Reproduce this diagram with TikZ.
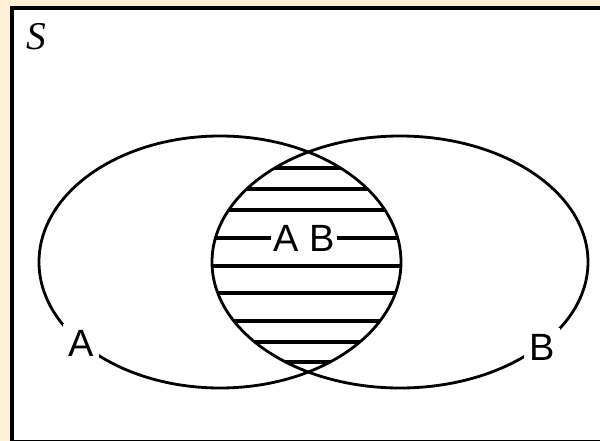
\documentclass[tikz,border=0pt]{standalone}
\usepackage{fontspec}
\setmainfont{Liberation Serif}
\newfontfamily\arialfont{Liberation Sans}
\definecolor{frameback}{RGB}{253,239,213}

\begin{document}
\begin{tikzpicture}[
    x=0.025cm, y=-0.025cm,
    oval/.style={draw=black, line width=2pt},
    hatch/.style={draw=black, line width=2.3pt},
    lbl/.style={font=\arialfont\fontsize{27}{32}\selectfont,
                fill=white, inner sep=#1},
    lbl/.default=3pt,
]

% --- page frame ---
\fill [frameback] (0,0) rectangle (600,441);
\useasboundingbox (0,0) rectangle (600,441);
\node (sample) [draw=black, line width=2.8pt, fill=white, inner sep=0pt,
    minimum width=593*0.025cm, minimum height=434*0.025cm, anchor=north west]
    at (10,6) {};

% --- set centres ---
\coordinate (cA) at (220,262);
\coordinate (cB) at (400,262);

% --- hatched intersection A B ---
\begin{scope}
    \clip (cA) ellipse [x radius=181, y radius=126];
    \clip (cB) ellipse [x radius=188, y radius=126];
    \foreach \yy in {168,189,210,238,266,293,321,342,362}
        \draw [hatch] (200,\yy) -- (420,\yy);
\end{scope}

% --- the two sets ---
\draw [oval] (cA) ellipse [x radius=181, y radius=126];
\draw [oval] (cB) ellipse [x radius=188, y radius=126];

% --- labels ---
\node (space) [font=\itshape\fontsize{28}{32}\selectfont, inner sep=0pt]
    at (36,37) {S};
\node (labA)  [lbl=4pt] at (81,343) {A};
\node (labB)  [lbl=4pt] at (542,347) {B};
\node (labAB) [lbl=1.5pt] at (304,238) {A B};

\end{tikzpicture}
\end{document}
